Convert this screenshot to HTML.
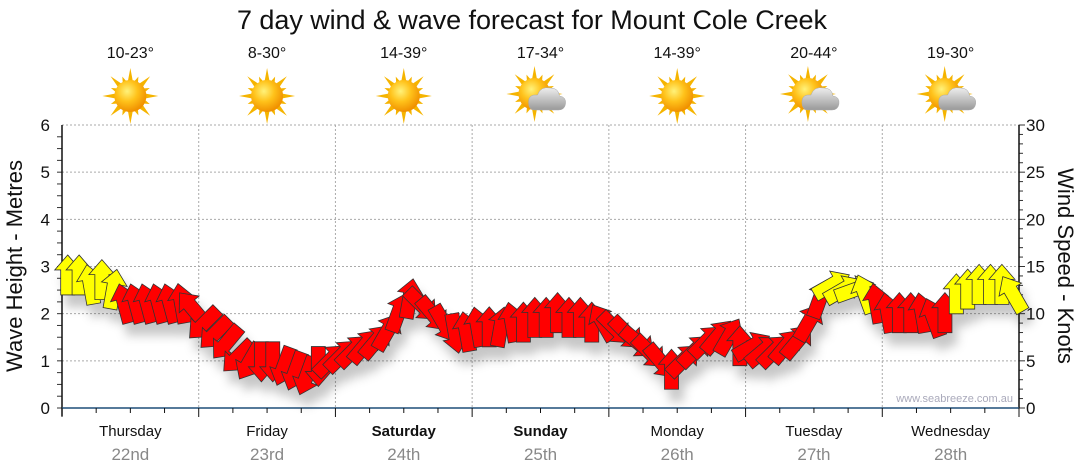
<!DOCTYPE html>
<html><head><meta charset="utf-8"><style>
body{margin:0;background:#fff;}
svg{display:block;font-family:"Liberation Sans","DejaVu Sans",sans-serif;}
</style></head><body>
<svg id="c" width="1080" height="475" viewBox="0 0 1080 475">
<defs>
<filter id="sh" x="-20%" y="-20%" width="140%" height="160%"><feDropShadow dx="5" dy="12" stdDeviation="5" flood-color="#000" flood-opacity="0.22"/></filter>
<radialGradient id="sun" cx="40%" cy="35%" r="65%"><stop offset="0" stop-color="#fff27a"/><stop offset="0.5" stop-color="#ffc21a"/><stop offset="1" stop-color="#f09000"/></radialGradient>
<linearGradient id="cloud" x1="0" y1="0" x2="0" y2="1"><stop offset="0" stop-color="#eee"/><stop offset="1" stop-color="#999"/></linearGradient>
</defs>
<text x="532" y="29" text-anchor="middle" font-size="27" fill="#111" textLength="590">7 day wind &amp; wave forecast for Mount Cole Creek</text>
<g id="grid"></g><g id="axes"></g><g id="top"></g>
<g id="arrows" filter="url(#sh)"></g>
<text x="1013" y="402" text-anchor="end" font-size="11" fill="#aab">www.seabreeze.com.au</text>
<text transform="translate(22,266) rotate(-90)" text-anchor="middle" font-size="22" fill="#111">Wave Height - Metres</text>
<text transform="translate(1058,266) rotate(90)" text-anchor="middle" font-size="22" fill="#111">Wind Speed - Knots</text>
</svg>
<script>
const days=["Thursday","Friday","Saturday","Sunday","Monday","Tuesday","Wednesday"];
const dates=["22nd","23rd","24th","25th","26th","27th","28th"];
const temps=["10-23°","8-30°","14-39°","17-34°","14-39°","20-44°","19-30°"];
const cloudy=[false,false,false,true,false,true,true];
const boldDays=[false,false,true,true,false,false,false];
const waveTicks=[0,1,2,3,4,5,6];
const windTicks=[0,5,10,15,20,25,30];
// wind every 2 hours, 12 per day
const windSpeed=[14,14,13,13.5,12.5,11,11,11,11,11,11,10.5,
9,8,7,5.5,5,5,5,4.5,4,3.5,4.5,5,
5.5,6,6.5,7,8,10,11.5,11,10,9,8,8,
8.5,8.5,8.5,9,9,9.5,9.5,10,9.5,9.5,9,9,
8.5,8,7,6,5,4,5,6,7,7.5,7.5,6.5,
6.5,6,6,6.5,7,9,11.5,13,12.5,12.5,12,11,
10,10,10,10,9.5,10,12,12.5,13,13,13,12];
const windDir=[0,0,-10,0,10,-15,-15,-15,-15,-15,-10,-40,
225,225,220,225,210,180,180,200,200,200,180,45,
45,45,40,40,30,20,10,135,140,150,170,-10,
-10,0,10,-10,0,0,0,0,0,0,0,-30,
135,135,130,135,140,0,45,45,45,40,30,0,
60,50,45,40,40,30,20,60,60,70,-20,-10,
-10,0,0,-10,-20,0,0,0,0,0,0,-30];
const NS="http://www.w3.org/2000/svg";
const X0=62,X1=1019,Y0=408,Y1=125,DW=(X1-X0)/7;
const yWave=v=>Y0-(v/6)*(Y0-Y1);
const yWind=v=>Y0-(v/30)*(Y0-Y1);
const xT=h=>X0+h/24*DW;
function mk(tag,at,parent,txt){const e=document.createElementNS(NS,tag);for(const k in at)e.setAttribute(k,at[k]);if(txt!==undefined)e.textContent=txt;parent.appendChild(e);return e;}
const G=document.getElementById('grid'),A=document.getElementById('axes'),T=document.getElementById('top'),AR=document.getElementById('arrows');
waveTicks.forEach(v=>{if(v>0){const l=mk('line',{x1:X0,x2:X1,y1:yWave(v),y2:yWave(v),stroke:'#aaa','stroke-dasharray':'2,2'},G);}
const t=mk('text',{x:50,y:yWave(v)+6,'text-anchor':'end','font-size':17,fill:'#111'},A,v);});
for(let m=0;m<24;m++){const y=yWave(m/4);mk('line',{x1:X0-5,x2:X0,y1:y,y2:y,stroke:'#333'},A);}
windTicks.forEach(v=>{const t=mk('text',{x:1026,y:yWind(v)+6,'font-size':17,fill:'#111'},A,v);});
for(let m=0;m<=30;m++){const y=yWind(m);mk('line',{x1:X1,x2:X1+(m%5?4:6),y1:y,y2:y,stroke:'#333'},A);}
mk('line',{x1:X0,x2:X0,y1:Y1,y2:Y0+8,stroke:'#111','stroke-width':1.5},A);
mk('line',{x1:X1,x2:X1,y1:Y1,y2:Y0,stroke:'#111','stroke-width':1.5},A);
mk('line',{x1:X0,x2:X1,y1:Y0,y2:Y0,stroke:'#1f4f78','stroke-width':1.5},A);
for(let h=0;h<=168;h+=6){const x=xT(h);const maj=h%24===0;mk('line',{x1:x,x2:x,y1:Y0,y2:Y0+(maj?9:5),stroke:'#111'},A);
 if(maj&&h>0&&h<168){const l=mk('line',{x1:x,x2:x,y1:Y1,y2:Y0,stroke:'#aaa','stroke-dasharray':'2,2'},G);}}
days.forEach((d,i)=>{const cx=X0+DW*(i+0.5);
 const a=mk('text',{x:cx,y:436,'text-anchor':'middle','font-size':15,fill:'#111','font-weight':boldDays[i]?'bold':'normal'},A,d);
 const b=mk('text',{x:cx,y:460,'text-anchor':'middle','font-size':17,fill:'#888'},A,dates[i]);
 const t=mk('text',{x:cx,y:58,'text-anchor':'middle','font-size':16,fill:'#111'},T,temps[i]);
 const g=mk('g',{transform:`translate(${cx},${cloudy[i]?94:96})`},T);
 const s=cloudy[i]?-6:0;
 for(let k=0;k<16;k++){const ang=k*22.5,len=k%2?21:28;mk('polygon',{points:`${s-3},${-12} ${s},${-len} ${s+3},${-12}`,fill:'#f5b400',transform:`rotate(${ang} ${s} 0)`},g);}
 mk('circle',{cx:s,cy:0,r:16,fill:'url(#sun)'},g);
 if(cloudy[i]){mk('path',{d:'M-6,16 Q-12,16 -12,8 Q-12,0 -3,1 Q0,-8 10,-6 Q18,-6 19,2 Q26,3 25,10 Q24,16 18,16 Z',fill:'url(#cloud)',stroke:'#aaa','stroke-width':0.5},g);}
});
windSpeed.forEach((v,i)=>{const x=xT(i*2+1),y=yWind(v);
 const p=mk('polygon',{points:'0,-21 13,-6 7,-6 7,19 -7,19 -7,-6 -13,-6',fill:v>=12?'#ffff00':'#ff0000',stroke:'#333','stroke-width':0.8,transform:`translate(${x},${y}) rotate(${windDir[i]})`},AR);
 
 
});
</script>
</body></html>
